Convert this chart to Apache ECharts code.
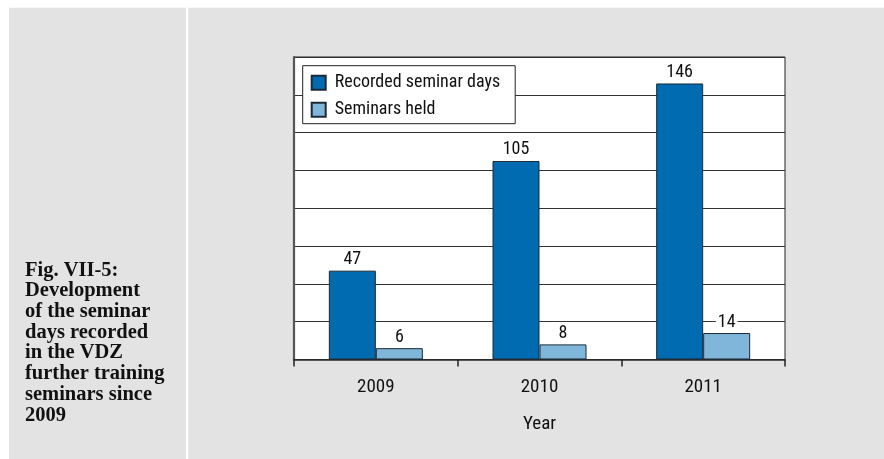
<!DOCTYPE html>
<html>
<head>
<meta charset="utf-8">
<script src="https://cdn.jsdelivr.net/npm/echarts@6/dist/echarts.min.js"></script>
<style>
html,body{margin:0;padding:0;background:#fff;}
#c{width:884px;height:459px;}
</style>
</head>
<body>
<div id="c"></div>
<script>
var categories = ['2009', '2010', '2011'];
var recordedDays = [47, 105, 146];
var seminarsHeld = [6, 8, 14];
var seriesNames = ['Recorded seminar days', 'Seminars held'];
var axisName = 'Year';
var captionLines = ['Fig. VII-5:', 'Development', 'of the seminar', 'days recorded', 'in the VDZ', 'further training', 'seminars since', '2009'];

var NARROW = "'Roboto Condensed', 'DejaVu Sans Condensed', sans-serif";
var GRAY = '#e2e3e2';

var chart = echarts.init(document.getElementById('c'), null, {renderer: 'canvas'});

var labelStyle = {
  show: true,
  position: 'top',
  distance: 2,
  fontFamily: NARROW,
  fontSize: 18,
  color: '#111',
  backgroundColor: '#fff',
  padding: [0, 2]
};

chart.setOption({
  backgroundColor: '#fff',
  animation: false,
  graphic: [
    {type: 'rect', z: -10, silent: true, shape: {x: 9, y: 7.7, width: 177, height: 460}, style: {fill: GRAY}},
    {type: 'rect', z: -10, silent: true, shape: {x: 188.3, y: 7.7, width: 700, height: 460}, style: {fill: GRAY}}
  ],
  title: {
    text: captionLines.join('\n'),
    left: 25,
    top: 260,
    padding: 0,
    textStyle: {
      fontFamily: "'Liberation Serif', 'Times New Roman', serif",
      fontWeight: 'bold',
      fontSize: 20.5,
      lineHeight: 20.7,
      color: '#111'
    }
  },
  legend: {
    orient: 'vertical',
    left: 302.7,
    top: 65.7,
    backgroundColor: '#fff',
    borderColor: '#222',
    borderWidth: 1,
    borderRadius: 0,
    padding: [7, 15, 4, 8],
    itemGap: 7,
    itemWidth: 14,
    itemHeight: 14,
    icon: 'rect',
    textStyle: {
      fontFamily: NARROW,
      fontSize: 18,
      lineHeight: 20,
      color: '#111',
      padding: [0, 0, 0, 4]
    },
    data: seriesNames
  },
  grid: {
    show: true,
    left: 294,
    right: 99,
    top: 57,
    bottom: 99.5,
    backgroundColor: '#fff',
    borderColor: '#222',
    borderWidth: 1
  },
  xAxis: {
    type: 'category',
    data: categories,
    boundaryGap: true,
    name: axisName,
    nameLocation: 'middle',
    nameGap: 55,
    nameTextStyle: {fontFamily: NARROW, fontSize: 19, color: '#111'},
    axisLine: {show: true, lineStyle: {color: '#2a2a2a', width: 1.5}},
    axisTick: {show: true, length: 7, alignWithLabel: false, lineStyle: {color: '#222', width: 1.5}},
    axisLabel: {margin: 18, fontFamily: NARROW, fontSize: 19, color: '#111'}
  },
  yAxis: {
    type: 'value',
    min: 0,
    max: 160,
    interval: 20,
    axisLine: {show: true, lineStyle: {color: '#555', width: 2.2}},
    axisTick: {show: false},
    axisLabel: {show: false},
    splitLine: {show: true, lineStyle: {color: '#333', width: 1}}
  },
  series: [
    {
      name: seriesNames[0],
      type: 'bar',
      data: recordedDays,
      barWidth: 47,
      barGap: '0%',
      itemStyle: {color: '#006bb0', borderColor: '#1b2a38', borderWidth: 1},
      label: labelStyle
    },
    {
      name: seriesNames[1],
      type: 'bar',
      data: seminarsHeld,
      barWidth: 47,
      barGap: '0%',
      itemStyle: {color: '#80b6da', borderColor: '#1b2a38', borderWidth: 1},
      label: labelStyle
    }
  ]
});
</script>
</body>
</html>
